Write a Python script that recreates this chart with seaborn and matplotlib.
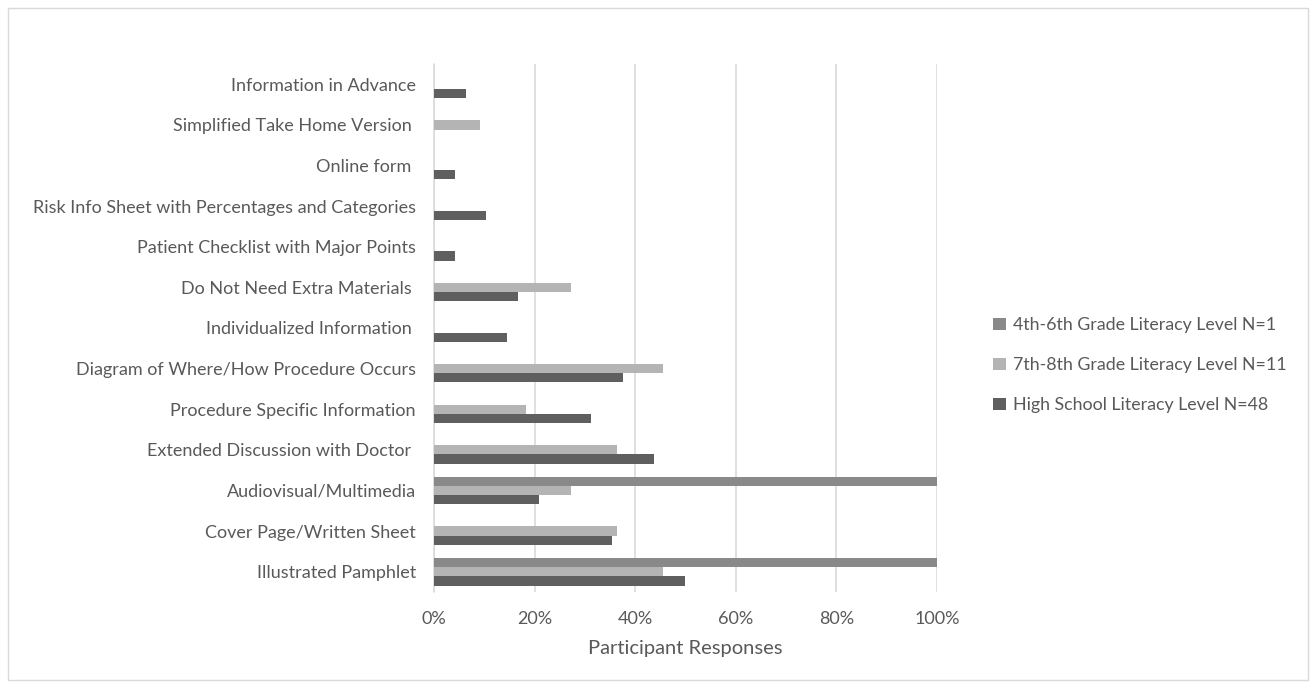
import pandas as pd
import matplotlib.pyplot as plt
import seaborn as sns
from matplotlib.ticker import PercentFormatter
from matplotlib.patches import Rectangle

# Danh mục (trên xuống dưới) và tỷ lệ phần trăm
categories = [
    "Information in Advance",
    "Simplified Take Home Version ",
    "Online form ",
    "Risk Info Sheet with Percentages and Categories",
    "Patient Checklist with Major Points",
    "Do Not Need Extra Materials ",
    "Individualized Information ",
    "Diagram of Where/How Procedure Occurs",
    "Procedure Specific Information",
    "Extended Discussion with Doctor ",
    "Audiovisual/Multimedia",
    "Cover Page/Written Sheet",
    "Illustrated Pamphlet",
]
grade_4_6 = [0, 0, 0, 0, 0, 0, 0, 0, 0, 0, 100, 0, 100]
grade_7_8 = [0, 9.1, 0, 0, 0, 27.3, 0, 45.5, 18.2, 36.4, 27.3, 36.4, 45.5]
high_school = [6.3, 0, 4.2, 10.4, 4.2, 16.7, 14.6, 37.5, 31.3, 43.8, 20.8, 35.4, 50.0]

series_names = [
    "4th-6th Grade Literacy Level N=1",
    "7th-8th Grade Literacy Level N=11",
    "High School Literacy Level N=48",
]
colors = ["#898989", "#b4b4b4", "#5f5f5f"]

df = pd.DataFrame({
    "Category": categories * 3,
    "Group": [series_names[0]] * 13 + [series_names[1]] * 13 + [series_names[2]] * 13,
    "Value": grade_4_6 + grade_7_8 + high_school,
})

sns.set_style("white")
plt.rcParams["font.family"] = ["Lato", "DejaVu Sans"]
text_color = "#595959"

fig = plt.figure(figsize=(13.16, 6.88), dpi=100)
ax = fig.add_axes([434 / 1316, 1 - 592 / 688, (937 - 434) / 1316, (592 - 64) / 688])

sns.barplot(data=df, x="Value", y="Category", hue="Group", order=categories,
            hue_order=series_names, palette=colors, orient="h", width=0.68,
            saturation=1, linewidth=0, ax=ax, legend=True)

ax.set_xlim(0, 100)
ax.set_xticks([0, 20, 40, 60, 80, 100])
ax.xaxis.set_major_formatter(PercentFormatter(decimals=0))
ax.grid(axis="x", color="#d9d9d9", linewidth=1.2)
# đường lưới 0% nằm đúng mép trục
ax.axvline(0, color="#d9d9d9", linewidth=1.2, zorder=0.5, clip_on=False)
ax.set_axisbelow(True)
for s in ax.spines.values():
    s.set_visible(False)
ax.tick_params(axis="both", length=0, labelsize=13, labelcolor=text_color)
ax.tick_params(axis="x", pad=14)
ax.tick_params(axis="y", pad=13)
ax.set_ylabel("")
ax.set_xlabel("Participant Responses", fontsize=14.5, color=text_color, labelpad=9)

leg = ax.legend(loc="center left", bbox_to_anchor=(1.08, 0.43), frameon=False,
                fontsize=12.8, labelspacing=1.35, handlelength=0.7, handleheight=0.7,
                handletextpad=0.4)
for t in leg.get_texts():
    t.set_color(text_color)

# khung viền mỏng quanh biểu đồ
fig.patches.append(Rectangle((8 / 1316, 8 / 688), 1300 / 1316, 672 / 688,
                             transform=fig.transFigure, fill=False,
                             edgecolor="#d9d9d9", linewidth=1))

fig.savefig("out.png", dpi=100)
